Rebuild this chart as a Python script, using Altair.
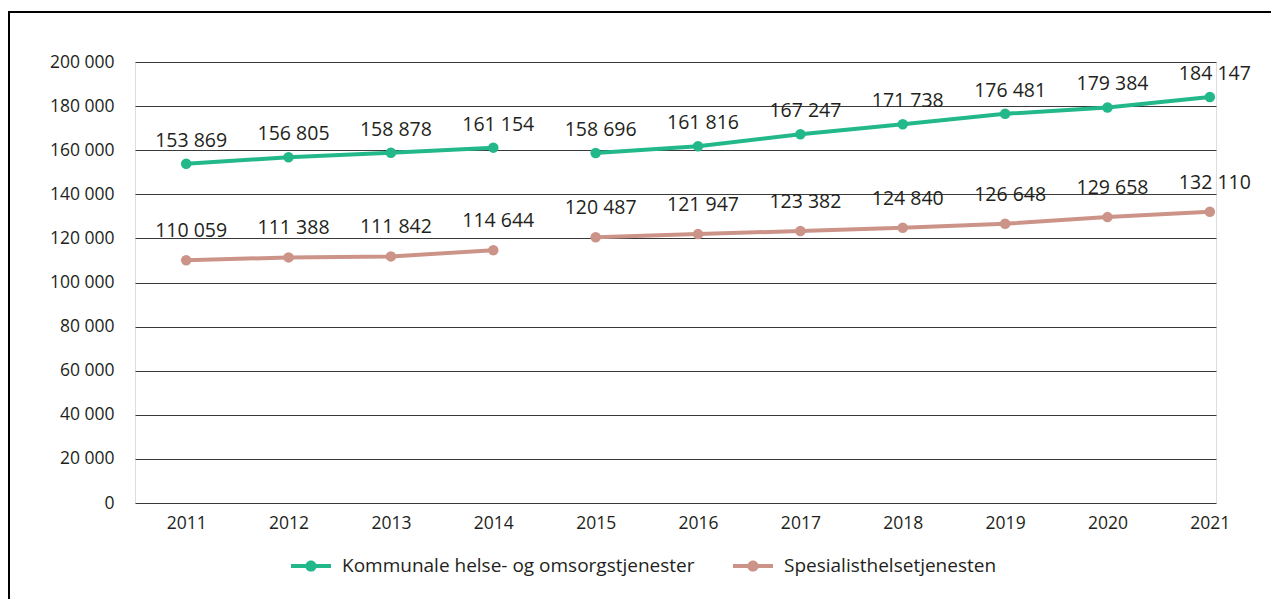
import altair as alt
import pandas as pd

years = [2011, 2012, 2013, 2014, 2015, 2016, 2017, 2018, 2019, 2020, 2021]
kommunale = [153869, 156805, 158878, 161154, 158696, 161816, 167247, 171738, 176481, 179384, 184147]
spesialist = [110059, 111388, 111842, 114644, 120487, 121947, 123382, 124840, 126648, 129658, 132110]
series_names = ["Kommunale helse- og omsorgstjenester", "Spesialisthelsetjenesten"]
colors = ["#22b88a", "#cc9488"]
y_ticks = [0, 20000, 40000, 60000, 80000, 100000, 120000, 140000, 160000, 180000, 200000]

rows = []
for name, vals in zip(series_names, [kommunale, spesialist]):
    for yr, v in zip(years, vals):
        rows.append({"year": yr, "value": v, "series": name,
                     "segment": name + ("-a" if yr <= 2014 else "-b")})
df = pd.DataFrame(rows)

FONT = "Open Sans"
TXT = "#231f20"
FMT = "replace(format(datum.value, ','), /,/g, ' ')"

x = alt.X("year:Q", scale=alt.Scale(domain=[2010.50, 2021.06], nice=False, zero=False),
          axis=alt.Axis(values=years, format="d", title=None, grid=False, ticks=False,
                        domain=False, labelFontSize=17.5, labelColor=TXT, labelFont=FONT,
                        labelPadding=11))
y = alt.Y("value:Q", scale=alt.Scale(domain=[0, 200000], nice=False),
          axis=alt.Axis(values=y_ticks, title=None, ticks=False, domain=False,
                        labelFontSize=17.5, labelColor=TXT, labelFont=FONT, labelPadding=21,
                        gridColor="#3a3a3a", gridWidth=1, gridOpacity=1,
                        labelExpr=FMT))

symbol_path = ("M -1 -0.1 L 1 -0.1 L 1 0.1 L -1 0.1 Z "
               "M -0.28 0 A 0.28 0.28 0 1 1 0.28 0 A 0.28 0.28 0 1 1 -0.28 0 Z")

color = alt.Color("series:N", scale=alt.Scale(domain=series_names, range=colors),
                  legend=alt.Legend(title=None, orient="none", direction="horizontal",
                                    legendX=156, legendY=484,
                                    labelFontSize=19, labelFont=FONT, labelColor=TXT,
                                    labelLimit=0,
                                    symbolType=symbol_path,
                                    symbolSize=1600, symbolStrokeWidth=0,
                                    symbolStrokeColor="transparent",
                                    columnPadding=38, labelOffset=11))

base = alt.Chart(df)
lines = base.mark_line(strokeWidth=4).encode(x=x, y=y, color=color, detail="segment:N")
points = base.mark_point(filled=True, size=110, opacity=1).encode(x=x, y=y, color=color)
lab_base = base.transform_calculate(label=FMT)
labels_k = lab_base.transform_filter(alt.datum.series == series_names[0]).mark_text(
    fontSize=19.5, font=FONT, color=TXT, dy=-23, dx=5).encode(x=x, y=y, text="label:N")
labels_s = lab_base.transform_filter(alt.datum.series == series_names[1]).mark_text(
    fontSize=19.5, font=FONT, color=TXT, dy=-29, dx=5).encode(x=x, y=y, text="label:N")

frame = alt.Chart(pd.DataFrame({"k": [0]})).mark_rect(
    fill=None, stroke="#000000", strokeWidth=2, clip=False
).encode(x=alt.value(-126), x2=alt.value(1300), y=alt.value(-50), y2=alt.value(700))

chart = alt.layer(frame, lines, points, labels_k, labels_s).properties(
    width=1081, height=441,
    autosize=alt.AutoSizeParams(type="none"),
    padding={"left": 127, "top": 54, "right": 55, "bottom": 96},
).configure_view(stroke=None).configure(background="white")

chart.save("out.html", embed_options={"renderer": "svg", "actions": False})
